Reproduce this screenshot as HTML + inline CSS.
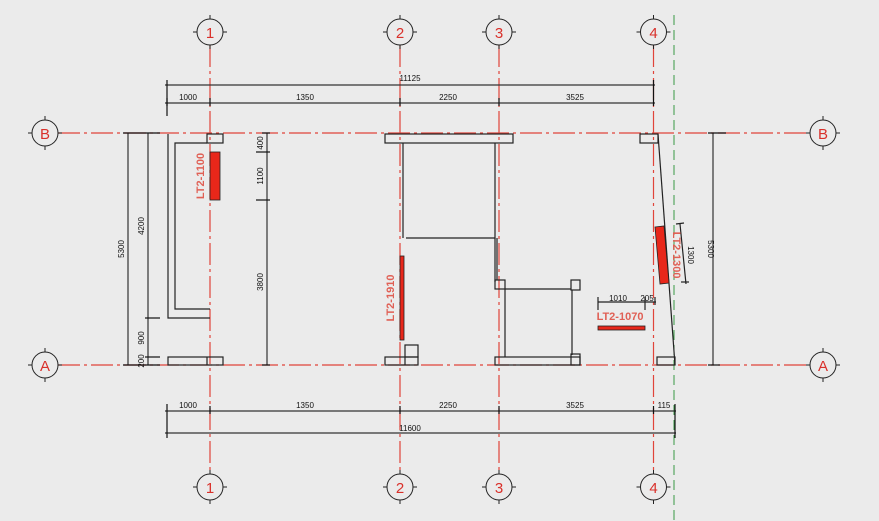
<!DOCTYPE html>
<html><head><meta charset="utf-8"><style>
html,body{margin:0;padding:0;background:#ebebeb;}
svg{display:block;}
text{font-family:"Liberation Sans",sans-serif;}
</style></head><body>
<svg width="879" height="521" viewBox="0 0 879 521" xmlns="http://www.w3.org/2000/svg">
<defs>
<g id="b"><circle cx="0" cy="0" r="13"/><line x1="-17" y1="0" x2="-13" y2="0"/><line x1="13" y1="0" x2="17" y2="0"/><line x1="0" y1="-17" x2="0" y2="-13"/><line x1="0" y1="13" x2="0" y2="17"/></g>
</defs>
<rect width="879" height="521" fill="#ebebeb"/>
<g stroke="#e0443a" stroke-width="1.2" stroke-dasharray="22,4,3,4" fill="none">
<line x1="210" y1="45" x2="210" y2="474"/>
<line x1="400" y1="45" x2="400" y2="474"/>
<line x1="499" y1="45" x2="499" y2="474"/>
<line x1="653.5" y1="45" x2="653.5" y2="474"/>
<line x1="58" y1="133" x2="810" y2="133"/>
<line x1="58" y1="365" x2="810" y2="365"/>
</g>
<line x1="674" y1="15" x2="674" y2="521" stroke="#3a9a45" stroke-width="1" stroke-dasharray="10,5"/>
<g stroke="#222" stroke-width="1" fill="#ebebeb">
<use href="#b" x="210" y="32"/><use href="#b" x="400" y="32"/><use href="#b" x="499" y="32"/><use href="#b" x="653.5" y="32"/>
<use href="#b" x="210" y="487"/><use href="#b" x="400" y="487"/><use href="#b" x="499" y="487"/><use href="#b" x="653.5" y="487"/>
<use href="#b" x="45" y="133"/><use href="#b" x="45" y="365"/><use href="#b" x="823" y="133"/><use href="#b" x="823" y="365"/>
</g>
<g fill="#d9302a" font-size="15" text-anchor="middle">
<text x="210" y="38">1</text><text x="400" y="38">2</text><text x="499" y="38">3</text><text x="653.5" y="38">4</text>
<text x="210" y="493">1</text><text x="400" y="493">2</text><text x="499" y="493">3</text><text x="653.5" y="493">4</text>
<text x="45" y="139">B</text><text x="45" y="371">A</text><text x="823" y="139">B</text><text x="823" y="371">A</text>
</g>
<g stroke="#333" stroke-width="1.2" fill="none">
<line x1="165" y1="85" x2="655" y2="85"/>
<line x1="165" y1="103" x2="655" y2="103"/>
<line x1="165" y1="411" x2="676" y2="411"/>
<line x1="165" y1="433" x2="676" y2="433"/>
<line x1="128" y1="133" x2="128" y2="365"/>
<line x1="148" y1="133" x2="148" y2="365"/>
<line x1="267" y1="133" x2="267" y2="365"/>
<line x1="713" y1="133" x2="713" y2="365"/>
</g>
<g stroke="#111" stroke-width="1.2">
<line x1="167" y1="80" x2="167" y2="116"/><line x1="653.5" y1="80" x2="653.5" y2="106"/>
<line x1="167" y1="98" x2="167" y2="106"/><line x1="210" y1="98" x2="210" y2="106"/><line x1="400" y1="98" x2="400" y2="106"/><line x1="499" y1="98" x2="499" y2="106"/>
<line x1="167" y1="404" x2="167" y2="438"/><line x1="210" y1="406" x2="210" y2="414"/><line x1="400" y1="406" x2="400" y2="414"/><line x1="499" y1="406" x2="499" y2="414"/><line x1="653.5" y1="406" x2="653.5" y2="414"/><line x1="675" y1="404" x2="675" y2="438"/>
<line x1="123" y1="133" x2="160" y2="133"/><line x1="123" y1="365" x2="160" y2="365"/>
<line x1="145" y1="318" x2="160" y2="318"/><line x1="145" y1="357" x2="160" y2="357"/>
<line x1="256" y1="152" x2="270" y2="152"/><line x1="256" y1="200" x2="270" y2="200"/>
<line x1="262" y1="133" x2="270" y2="133"/><line x1="262" y1="365" x2="270" y2="365"/>
<line x1="708" y1="133" x2="726" y2="133"/><line x1="708" y1="365" x2="720" y2="365"/>
</g>
<g fill="#111" font-size="8" text-anchor="middle">
<text x="410" y="81">11125</text>
<text x="188" y="100">1000</text><text x="305" y="100">1350</text><text x="448" y="100">2250</text><text x="575" y="100">3525</text>
<text x="188" y="408">1000</text><text x="305" y="408">1350</text><text x="448" y="408">2250</text><text x="575" y="408">3525</text><text x="664" y="408">115</text>
<text x="410" y="431">11600</text>
<text transform="translate(124,249) rotate(-90)">5300</text>
<text transform="translate(144,226) rotate(-90)">4200</text>
<text transform="translate(144,338) rotate(-90)">900</text>
<text transform="translate(144,361) rotate(-90)">200</text>
<text transform="translate(263,143) rotate(-90)">400</text>
<text transform="translate(263,176) rotate(-90)">1100</text>
<text transform="translate(263,282) rotate(-90)">3800</text>
<text transform="translate(708,249) rotate(90)">5300</text>
<text x="618" y="301">1010</text><text x="647" y="301">205</text>
<text transform="translate(688,255) rotate(90)">1300</text>
</g>
<g stroke="#222" stroke-width="1.2" fill="none">
<polyline points="168,134 168,318 210,318"/>
<polyline points="207,143 175,143 175,309 210,309"/>
<rect x="207" y="134" width="16" height="9"/>
<rect x="168" y="357" width="55" height="8"/><line x1="207" y1="357" x2="207" y2="365"/>
<rect x="385" y="134" width="128" height="9"/>
<line x1="403" y1="143" x2="403" y2="238"/>
<polyline points="406,238 495,238 495,143"/>
<line x1="495" y1="238" x2="495" y2="282"/><line x1="497" y1="238" x2="497" y2="280"/>
<rect x="495" y="280" width="10" height="9"/>
<line x1="505" y1="289" x2="571" y2="289"/>
<rect x="571" y="280" width="9" height="10"/>
<line x1="505" y1="289" x2="505" y2="357"/><line x1="572" y1="290" x2="572" y2="355"/>
<rect x="495" y="357" width="85" height="8"/><rect x="571" y="354" width="9" height="11"/>
<rect x="405" y="345" width="13" height="12"/><rect x="385" y="357" width="33" height="8"/><line x1="405" y1="357" x2="405" y2="365"/>
<rect x="640" y="134" width="18" height="9"/>
<line x1="658" y1="134" x2="675" y2="365"/>
<rect x="657" y="357" width="18" height="8"/>
<line x1="598" y1="302" x2="656" y2="302"/>
<line x1="598" y1="297" x2="598" y2="310"/><line x1="645" y1="297" x2="645" y2="310"/><line x1="655" y1="297" x2="655" y2="305"/>
<line x1="680" y1="224" x2="686" y2="284"/>
<line x1="676" y1="224" x2="684" y2="223"/><line x1="681" y1="282" x2="689" y2="282"/>
</g>
<g fill="#e8271a" stroke="#222" stroke-width="0.8">
<rect x="210" y="152" width="10" height="48"/>
<rect x="400" y="256" width="4" height="84"/>
<rect x="598" y="326" width="47" height="4"/>
<polygon points="655,227 664,226 669,283 660,284"/>
</g>
<g fill="#e06055" font-size="11" font-weight="bold" text-anchor="middle">
<text transform="translate(204,176) rotate(-90)">LT2-1100</text>
<text transform="translate(394,298) rotate(-90)">LT2-1910</text>
<text transform="translate(673,255) rotate(90)">LT2-1300</text>
<text x="620" y="320">LT2-1070</text>
</g>
</svg>
</body></html>
